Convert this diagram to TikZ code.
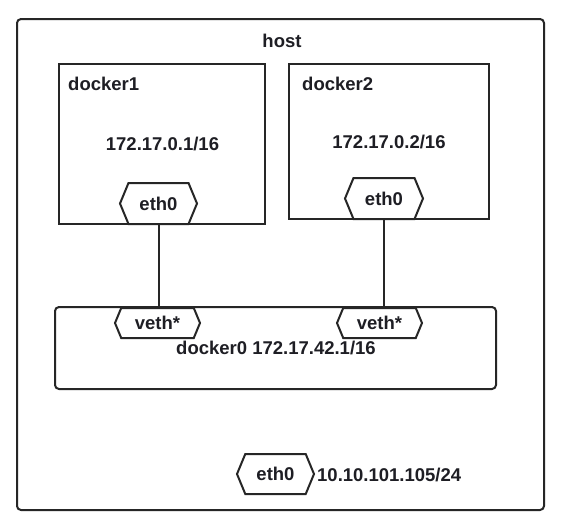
\documentclass[tikz,border=0pt]{standalone}
\usepackage{fontspec}
\setmainfont{Liberation Sans}
\usetikzlibrary{shapes.symbols}
\definecolor{ink}{HTML}{1E1E24}
\definecolor{edge}{HTML}{262626}
\tikzset{
  x=1pt, y=-1pt,
  txt/.style={font=\fontsize{18.5}{20}\selectfont\bfseries, text=ink, inner sep=0pt},
  box/.style={draw=edge, line width=2pt, inner sep=0pt},
  hexa/.style={shape=signal, signal to=west and east, signal pointer angle=135,
    draw=edge, line width=2pt, fill=white, inner sep=0pt,
    font=\fontsize{18.5}{20}\selectfont\bfseries, text=ink},
  wire/.style={draw=edge, line width=2pt},
}
\begin{document}
\begin{tikzpicture}
\useasboundingbox (0,0) rectangle (565,523);
\fill[white] (0,0) rectangle (565,523);
% host
\node[box, rounded corners=4pt, minimum width=527pt, minimum height=491pt] (host) at (280.5,264.5) {};
\node[txt, anchor=base] (hostlbl) at (282,47) {host};
% docker1
\node[box, minimum width=206pt, minimum height=160pt] (d1) at (162,144) {};
\node[txt, anchor=base west] (d1lbl) at (68,90) {docker1};
\node[txt, anchor=base] (d1ip) at (162.5,150) {172.17.0.1/16};
\node[hexa, minimum width=77pt, minimum height=41pt] (e1) at (158.5,203.5) {eth0};
% docker2
\node[box, minimum width=200pt, minimum height=155pt] (d2) at (389,141.5) {};
\node[txt, anchor=base west] (d2lbl) at (302,90) {docker2};
\node[txt, anchor=base] (d2ip) at (389,148) {172.17.0.2/16};
\node[hexa, minimum width=78pt, minimum height=41pt] (e2) at (384,198.5) {eth0};
% docker0
\node[box, rounded corners=4pt, minimum width=441pt, minimum height=82pt] (d0) at (275.5,348) {};
\node[hexa, minimum width=85pt, minimum height=30pt] (v1) at (157.5,323) {veth*};
\node[hexa, minimum width=85pt, minimum height=30pt] (v2) at (379.5,323) {veth*};
\node[txt, anchor=base] (d0lbl) at (276,354) {docker0 172.17.42.1/16};
% wires
\draw[wire] (e1.south) -- (e1.south |- d0.north);
\draw[wire] (e2.south) -- (e2.south |- d0.north);
% host eth0
\node[hexa, minimum width=77pt, minimum height=40pt] (e3) at (275.5,474) {eth0};
\node[txt, anchor=base west] (hostip) at (317,481) {10.10.101.105/24};
\end{tikzpicture}
\end{document}
